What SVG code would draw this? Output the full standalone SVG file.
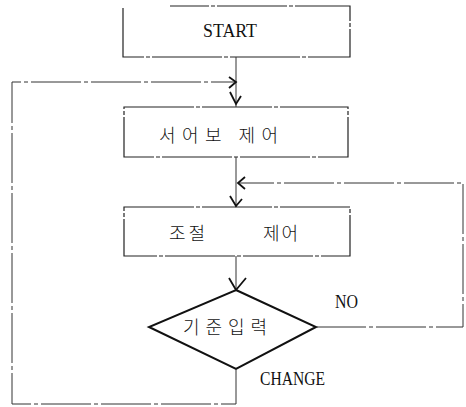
<svg xmlns="http://www.w3.org/2000/svg" width="466" height="407" viewBox="0 0 466 407">
<style>
.box{fill:none;stroke:#222;stroke-width:1.2;stroke-dasharray:70 2 4 2}
.dia{fill:none;stroke:#111;stroke-width:2}
.ln{fill:none;stroke:#333;stroke-width:1;stroke-dasharray:50 3 4 3}
.ah{fill:none;stroke:#111;stroke-width:1.8}
.en{font-family:"Liberation Serif","Times New Roman",serif;font-size:19px;fill:#111}
.ko{font-family:"Noto Sans CJK KR","Noto Sans",sans-serif;font-size:18px;font-weight:300;fill:#111}
</style>
<rect width="466" height="407" fill="#fff"/>
<g id="start">
<path class="box" d="M123,8 V57 H350 V6 H170"/>
<text class="en" x="230" y="37" text-anchor="middle" textLength="54" lengthAdjust="spacingAndGlyphs">START</text>
</g>
<g id="servo">
<rect class="box" x="124" y="107" width="224" height="50"/>
<text class="ko" x="159" y="142" textLength="119" lengthAdjust="spacing">서어보 제어</text>
</g>
<g id="adjust">
<rect class="box" x="124" y="207" width="226" height="49"/>
<text class="ko" x="169" y="240" letter-spacing="3">조절</text>
<text class="ko" x="263" y="240" letter-spacing="2">제어</text>
</g>
<g id="decision">
<polygon class="dia" points="236,290 316,327 236,369 149,327"/>
<text class="ko" x="183" y="334" textLength="84" lengthAdjust="spacing">기준입력</text>
</g>
<g id="connectors">
<line class="ln" x1="236" y1="57" x2="236" y2="107"/>
<line class="ln" x1="236" y1="157" x2="236" y2="207"/>
<line class="ln" x1="236" y1="256" x2="236" y2="290"/>
<path class="ln" d="M316,327 H463 V183 H238"/>
<path class="ln" d="M236,369 V404 H12 V82 H236"/>
<path class="ah" d="M229,77 L236,82 L229,88"/>
<path class="ah" d="M230,92 L236,104 L241,96"/>
<path class="ah" d="M245,177 L238,183 L245,189"/>
<path class="ah" d="M230,196 L236,206 L242,199"/>
<path class="ah" d="M229,278 L236,290 L246,278"/>
<text class="en" x="335" y="308" textLength="23" lengthAdjust="spacingAndGlyphs">NO</text>
<text class="en" x="260" y="385" textLength="65" lengthAdjust="spacingAndGlyphs">CHANGE</text>
</g>
</svg>
